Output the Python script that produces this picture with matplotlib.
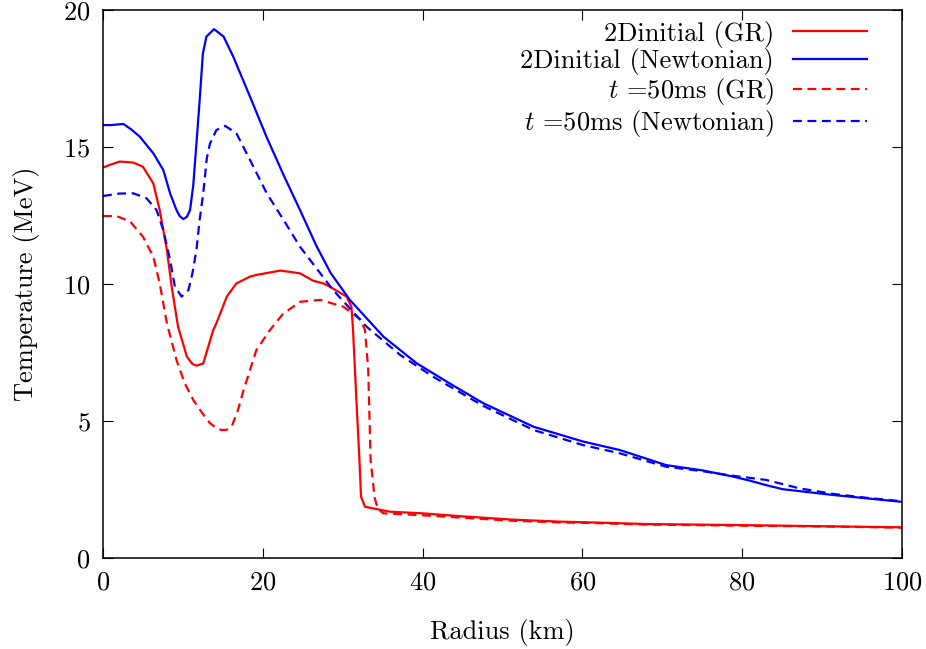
import numpy as np
import matplotlib
matplotlib.use("Agg")
import matplotlib.pyplot as plt

# LaTeX-ish look
plt.rcParams['font.family'] = 'serif'
plt.rcParams['font.serif'] = ['cmr10']
plt.rcParams['mathtext.fontset'] = 'cm'
plt.rcParams['axes.unicode_minus'] = False
plt.rcParams['axes.formatter.use_mathtext'] = True

# 2Dinitial (GR)
r_gr0 = [0, 0.8, 2.1, 3.8, 5.0, 6.3, 7.1, 8.0, 8.6, 9.4, 10.5, 11.2, 11.7, 12.55, 13.8, 14.2, 15.5,
         16.7, 18.4, 19.2, 22.2, 24.66, 26.3, 27.6, 28.4, 30.5, 31.1, 31.3, 31.7, 32.1, 32.3, 32.8,
         35.9, 40, 45, 51.3, 57, 62.2, 68, 80, 90, 100]
T_gr0 = [14.25, 14.34, 14.47, 14.43, 14.28, 13.67, 12.7, 11.24, 9.9, 8.44, 7.35, 7.08, 7.02, 7.1, 8.32,
         8.57, 9.54, 10.02, 10.27, 10.33, 10.49, 10.39, 10.12, 10.02, 9.9, 9.54, 9.17, 8.32, 5.89,
         3.58, 2.24, 1.87, 1.69, 1.63, 1.52, 1.4, 1.33, 1.29, 1.24, 1.2, 1.16, 1.12]

# 2Dinitial (Newtonian)
r_nw0 = [0, 1, 2.55, 3.5, 4.6, 6.3, 7.55, 8.4, 9.2, 9.6, 10.05, 10.5, 10.9, 11.3, 11.7, 12.1, 12.5,
         12.95, 13.9, 15.1, 16.3, 18.4, 20.5, 22.6, 24.66, 26.7, 28.5, 30.9, 35.1, 39.3, 43.4, 47.6,
         53.9, 60.1, 64.7, 70.5, 75, 78.9, 81, 83.0, 85.1, 91.4, 95.5, 100]
T_nw0 = [15.8, 15.8, 15.84, 15.65, 15.38, 14.77, 14.16, 13.31, 12.7, 12.48, 12.37, 12.45, 12.7,
         13.6, 15.13, 16.7, 18.4, 19.03, 19.3, 19.03, 18.3, 16.84, 15.35, 13.98, 12.7, 11.4, 10.4,
         9.42, 8.08, 7.1, 6.37, 5.65, 4.79, 4.25, 3.94, 3.39, 3.2, 2.97, 2.82, 2.66, 2.51, 2.3, 2.18,
         2.05]

# t = 50 ms (GR)
r_gr50 = [0, 1.7, 3.4, 5.0, 6.3, 7.1, 8.0, 9.2, 10.2, 11.3, 12.4, 13.4, 14.3, 14.85, 15.5, 16.1,
          16.9, 17.6, 19.2, 20.9, 22.5, 24.66, 27.2, 30.1, 32.2, 32.8, 33.2, 33.5, 34.0, 34.4, 35.1,
          40, 45, 51.3, 57, 62.2, 68, 80, 90, 100]
T_gr50 = [12.48, 12.48, 12.28, 11.73, 11.0, 10.02, 8.57, 7.23, 6.4, 5.77, 5.3, 4.92, 4.72, 4.67,
          4.68, 4.79, 5.4, 6.13, 7.59, 8.32, 8.9, 9.35, 9.42, 9.17, 8.71, 8.32, 6.86, 3.58, 2.2, 1.8,
          1.63, 1.56, 1.47, 1.36, 1.3, 1.27, 1.22, 1.18, 1.15, 1.11]

# t = 50 ms (Newtonian)
r_nw50 = [0, 2, 3.8, 5.45, 6.7, 7.55, 8.4, 9.0, 9.85, 10.7, 11.2, 11.7, 12.1, 12.55, 13.0, 13.4,
          14.2, 15.3, 16.7, 18.4, 20.5, 22.6, 24.66, 28.8, 33.0, 37.2, 41.3, 47.6, 53.9, 60.1, 64.7,
          70.5, 75, 78.9, 83.0, 87.2, 91.4, 95.5, 100]
T_nw50 = [13.21, 13.3, 13.31, 13.13, 12.7, 11.97, 10.88, 9.9, 9.54, 9.78, 10.4, 11.24, 12.34,
          13.31, 14.6, 15.13, 15.62, 15.77, 15.5, 14.53, 13.31, 12.34, 11.36, 9.78, 8.44, 7.41, 6.62,
          5.55, 4.67, 4.12, 3.82, 3.33, 3.17, 3.0, 2.85, 2.54, 2.34, 2.2, 2.07]

labels = ['2Dinitial (GR)', '2Dinitial (Newtonian)', r'$t$ =50ms (GR)', r'$t$ =50ms (Newtonian)']

fig = plt.figure(figsize=(9.26, 6.49), dpi=100)
ax = fig.add_axes([0.1112, 0.1402, 0.8628, 0.8444])

dash = (4, 2.5)
ax.plot(r_gr0, T_gr0, color='#ff0000', lw=1.6, label=labels[0])
ax.plot(r_nw0, T_nw0, color='#0000ff', lw=1.6, label=labels[1])
ax.plot(r_gr50, T_gr50, color='#ff0000', lw=1.6, dashes=dash, label=labels[2])
ax.plot(r_nw50, T_nw50, color='#0000ff', lw=1.6, dashes=dash, label=labels[3])

ax.set_xlim(0, 100)
ax.set_ylim(0, 20)
ax.set_xticks([0, 20, 40, 60, 80, 100])
ax.set_yticks([0, 5, 10, 15, 20])
ax.tick_params(direction='in', length=7, width=0.8, top=True, right=True, labelsize=19, pad=9)
for s in ax.spines.values():
    s.set_linewidth(1.1)

ax.set_xlabel('Radius (km)', fontsize=19, labelpad=18)
ax.set_ylabel('Temperature (MeV)', fontsize=19, labelpad=17)

# gnuplot style key: text right-aligned, sample on the right
ax.legend(loc='upper right', bbox_to_anchor=(0.969, 1.0), frameon=False, markerfirst=False,
          fontsize=19, handlelength=2.8, labelspacing=0.03, borderaxespad=0, handletextpad=0.7)

fig.savefig('out.png', dpi=100)
